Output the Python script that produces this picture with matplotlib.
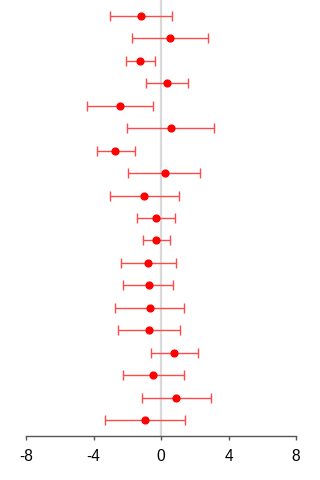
import matplotlib
matplotlib.use("Agg")
import matplotlib.pyplot as plt
import numpy as np

plt.rcParams['font.family'] = ['Liberation Sans', 'DejaVu Sans']

# Point estimates and interval bounds, listed top to bottom
estimate = [-1.19, 0.53, -1.23, 0.37, -2.42, 0.59, -2.70, 0.21, -1.00, -0.30,
            -0.28, -0.76, -0.74, -0.68, -0.74, 0.78, -0.46, 0.90, -0.94]
lower = [-3.03, -1.69, -2.10, -0.86, -4.38, -1.99, -3.80, -1.93, -3.03, -1.43,
         -1.07, -2.40, -2.26, -2.74, -2.56, -0.58, -2.26, -1.13, -3.29]
upper = [0.66, 2.78, -0.38, 1.59, -0.46, 3.16, -1.55, 2.34, 1.04, 0.84,
         0.51, 0.86, 0.74, 1.36, 1.12, 2.19, 1.38, 2.94, 1.42]
x_ticks = [-8, -4, 0, 4, 8]

est = np.array(estimate)
lo = np.array(lower)
hi = np.array(upper)
rows = np.arange(1, len(est) + 1)

fig = plt.figure(figsize=(3.2, 4.8), dpi=100)
ax = fig.add_axes([26 / 320, 1 - 436 / 480, (296 - 26) / 320, 436 / 480])

ax.axvline(0, color='#d9d9d9', lw=1.6, zorder=1)
ax.errorbar(est, rows, xerr=[est - lo, hi - est], fmt='none',
            ecolor='#ff4a4a', elinewidth=1.0, capsize=3.6, capthick=1.0, zorder=2)
ax.plot(est, rows, 'o', color='#ff0000', ms=4.9, mec='#ff0000', zorder=3)

ax.set_xlim(-8, 8)
ax.set_ylim(len(est) + 0.71, 0.29)
ax.set_xticks(x_ticks)
ax.set_xticklabels([str(t) for t in x_ticks], fontsize=11.2)
ax.set_yticks([])
for side in ['top', 'right', 'left']:
    ax.spines[side].set_visible(False)
ax.spines['bottom'].set_color('#555555')
ax.spines['bottom'].set_linewidth(1.0)
ax.tick_params(axis='x', direction='out', length=3.2, width=1.0, color='#555555',
               pad=6.5, labelcolor='black')

fig.savefig('out.png', dpi=100)
